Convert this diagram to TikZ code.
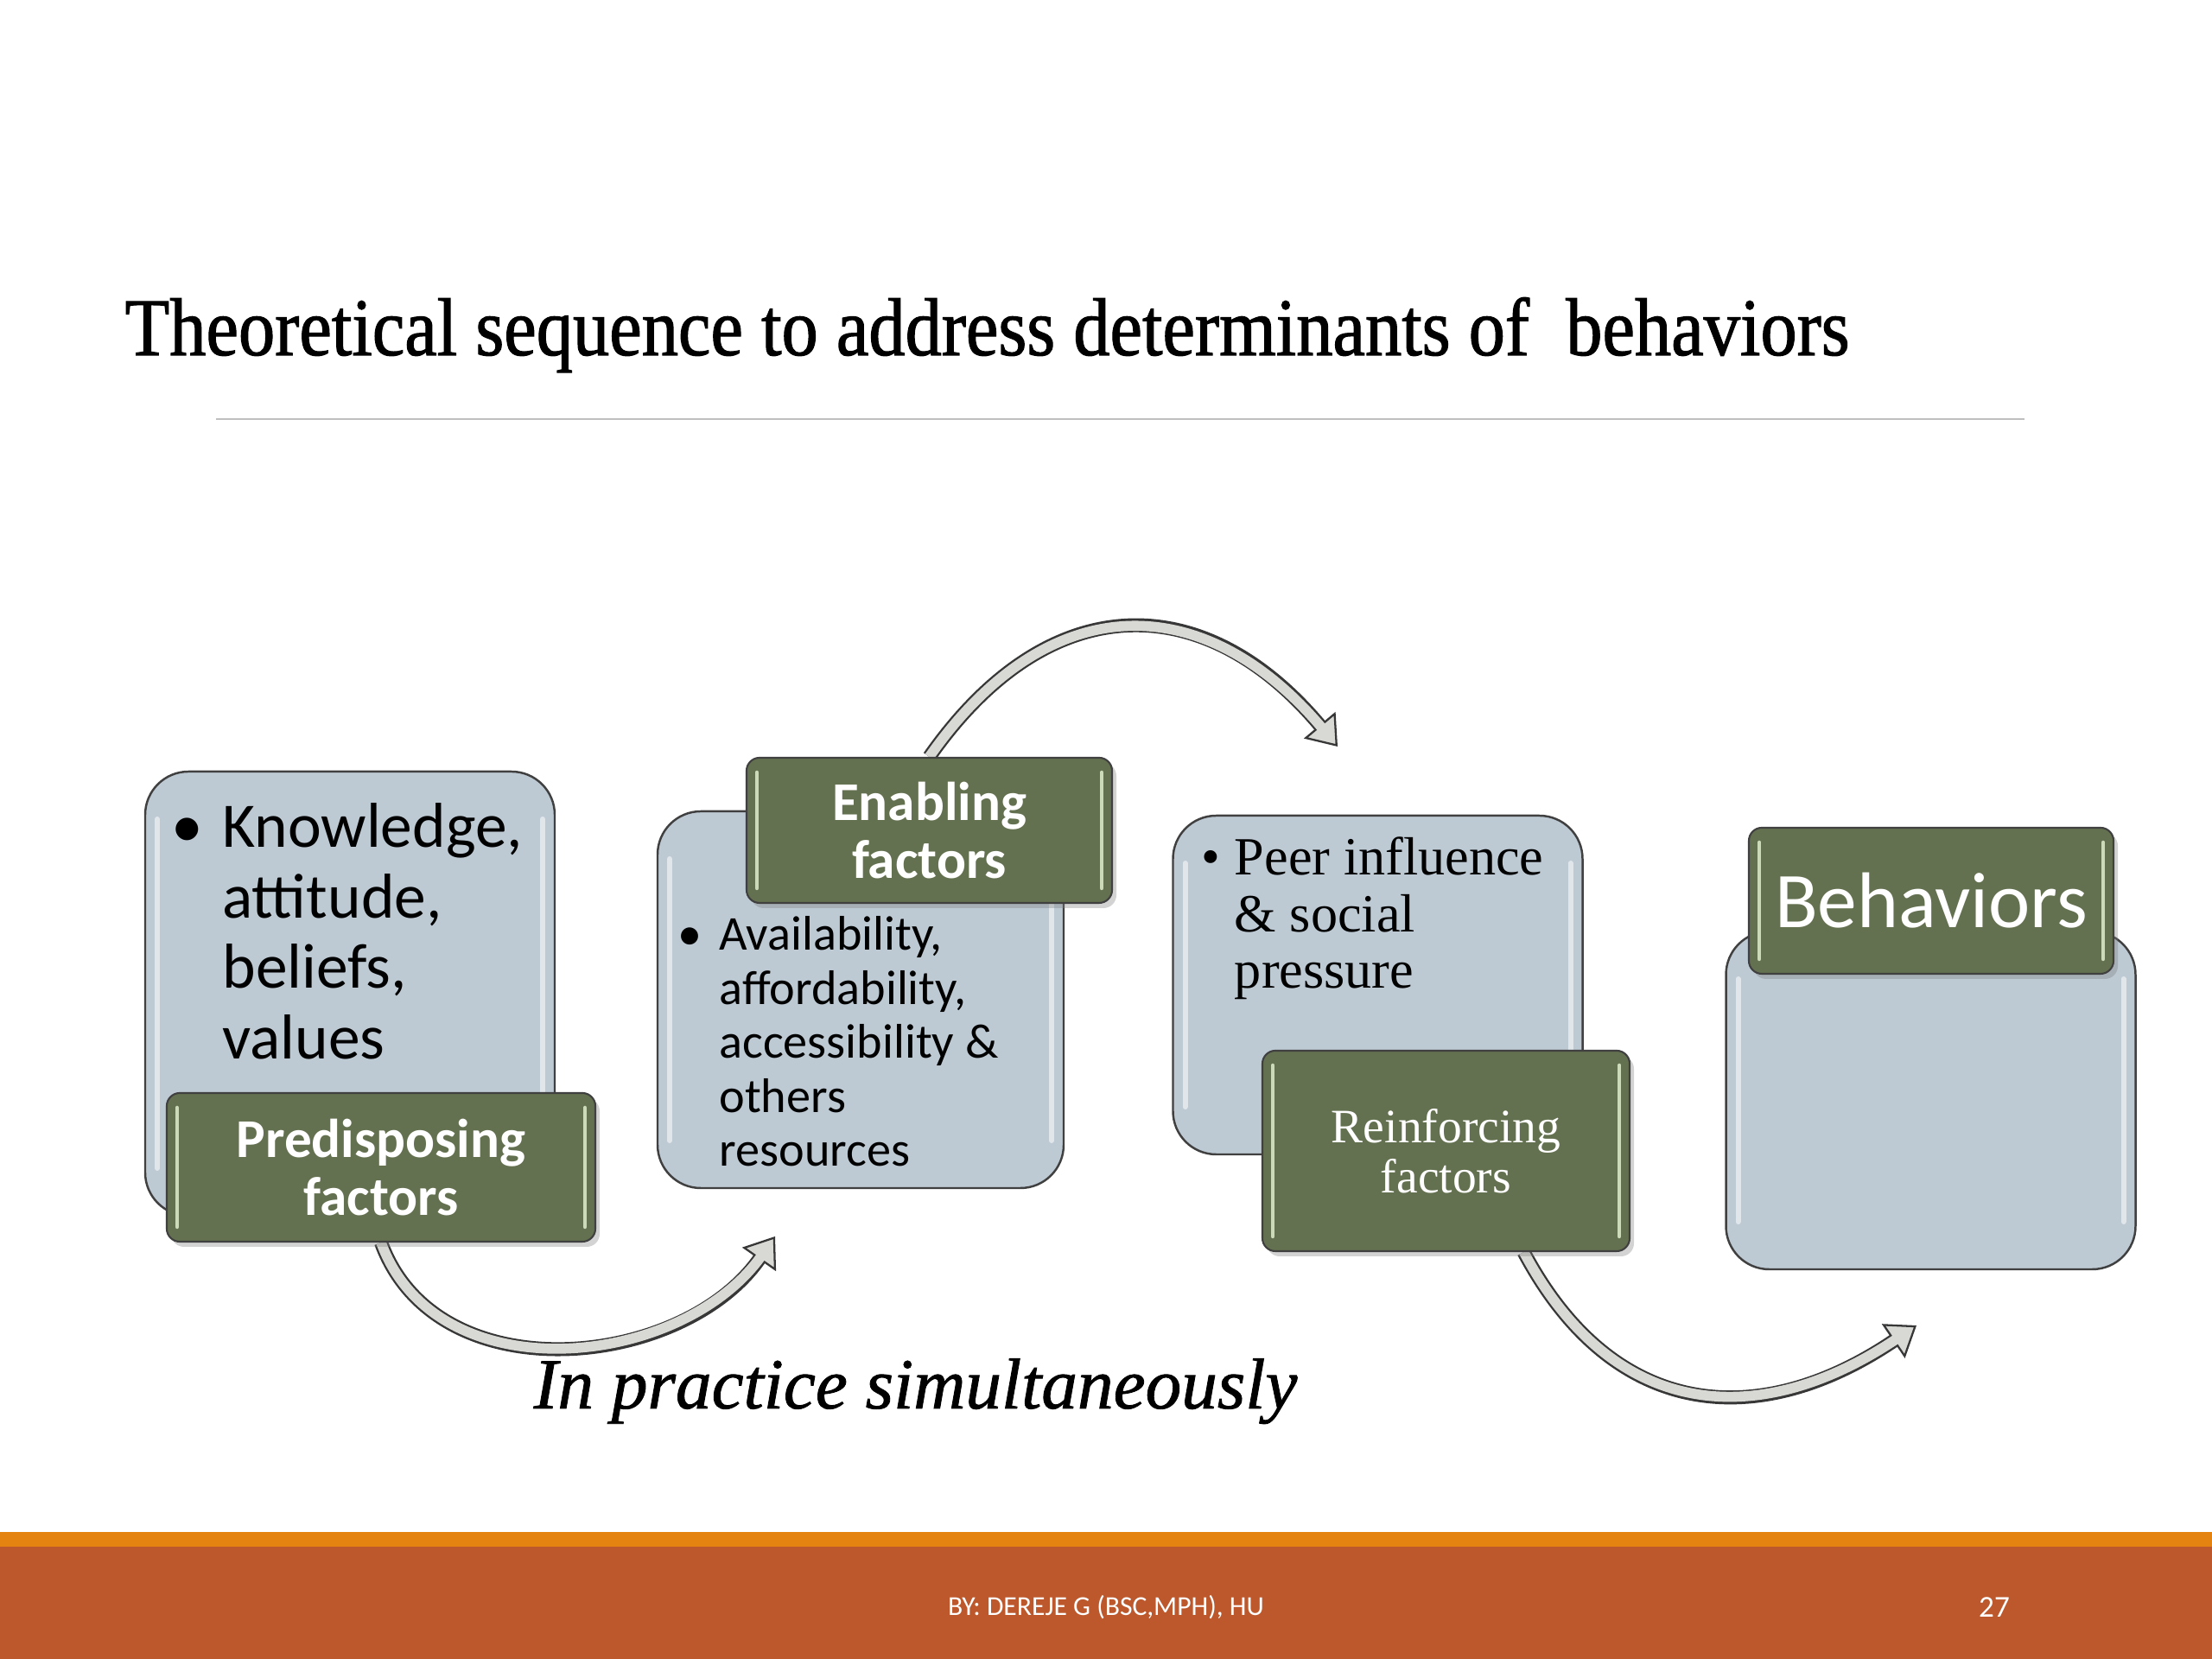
\documentclass[tikz,border=0pt]{standalone}
\usepackage{fontspec}
\setmainfont{Liberation Serif}
\newfontfamily\calibri{Carlito}
\newfontfamily\titlefont[FakeStretch=0.89, FakeBold=1.2]{Liberation Serif}
\newfontfamily\practicefont[FakeBold=1]{Liberation Serif}
\usetikzlibrary{arrows.meta, backgrounds, shadows}

\definecolor{boxblue}{RGB}{189,201,211}
\definecolor{boxedge}{RGB}{64,64,64}
\definecolor{leafgreen}{RGB}{100,113,80}
\definecolor{leafshine}{RGB}{205,218,185}
\definecolor{arrowfill}{RGB}{216,216,212}
\definecolor{arrowedge}{RGB}{55,55,55}
\definecolor{rulegray}{RGB}{191,191,191}
\definecolor{footorange}{RGB}{228,131,15}
\definecolor{footbrown}{RGB}{188,88,44}

\begin{document}
\begin{tikzpicture}[
    bluebox/.style={draw=boxedge, line width=0.7pt, fill=boxblue, rounded corners=0.5cm,
        minimum width=4.74cm, inner sep=0pt,
        path picture={\draw[white, opacity=0.55, line width=0.6mm, line cap=round]
            ([shift={(0.14,-0.55)}]path picture bounding box.north west) -- ([shift={(0.14,0.55)}]path picture bounding box.south west)
            ([shift={(-0.14,-0.55)}]path picture bounding box.north east) -- ([shift={(-0.14,0.55)}]path picture bounding box.south east);}},
    greenbox/.style={draw=boxedge, line width=0.6pt, fill=leafgreen, rounded corners=0.15cm,
        text=white, align=center, inner sep=0pt,
        drop shadow={shadow xshift=0.5mm, shadow yshift=-0.6mm, opacity=0.35},
        path picture={\draw[leafshine, line width=0.45mm, line cap=round]
            ([shift={(0.12,-0.17)}]path picture bounding box.north west) -- ([shift={(0.12,0.17)}]path picture bounding box.south west)
            ([shift={(-0.12,-0.17)}]path picture bounding box.north east) -- ([shift={(-0.12,0.17)}]path picture bounding box.south east);}},
    itemtext/.style={anchor=base west, inner sep=0pt},
    bendarrow/.style={line width=4.6pt, draw=arrowedge,
        -{Triangle[length=9.2pt, width=13.5pt, fill=arrowfill, line width=0.65pt]},
        postaction={draw=arrowfill, line width=3.3pt, arrows=-, shorten >=7.4pt}},
]
    \useasboundingbox (0,0) rectangle (25.6,19.2);

    % Title
    \node[anchor=base west, inner sep=0pt, font=\titlefont\fontsize{27}{32}\selectfont] (title) at (1.44,15.09)
        {Theoretical sequence to address determinants of\ \ behaviors};
    \draw[rulegray, line width=0.6pt] (2.50,14.35) -- (23.43,14.35);

    % Boxes
    \node[bluebox, minimum height=5.14cm] (know) at (4.05,7.70) {};
    \node[bluebox, minimum width=4.70cm, minimum height=4.36cm] (avail) at (9.96,7.63) {};
    \node[bluebox, minimum height=3.92cm] (peer) at (15.945,7.80) {};
    \node[bluebox, minimum height=3.91cm] (outcome) at (22.345,6.465) {};

    % Box texts
    \node[itemtext, font=\calibri\fontsize{20.9}{23.2}\selectfont] (knowtext) at ([shift={(0.31,-0.89)}]know.north west)
        {\begin{tabular}[t]{@{}p{0.59cm}@{}l@{}}\textbullet & Knowledge,\\ & attitude,\\ & beliefs,\\ & values\end{tabular}};
    \node[itemtext, font=\calibri\fontsize{16}{17.8}\selectfont] (availtext) at ([shift={(0.24,-1.62)}]avail.north west)
        {\begin{tabular}[t]{@{}p{0.48cm}@{}l@{}}\textbullet & Availability,\\ & affordability,\\ & accessibility \&\\ & others\\ & resources\end{tabular}};
    \node[itemtext, font=\fontsize{17.7}{18.6}\selectfont] (peertext) at ([shift={(0.34,-0.70)}]peer.north west)
        {\begin{tabular}[t]{@{}p{0.38cm}@{}l@{}}\textbullet & Peer influence\\ & \& social\\ & pressure\end{tabular}};

    % Factor labels
    \node[greenbox, minimum width=4.96cm, minimum height=1.72cm, font=\calibri\bfseries\fontsize{18}{19.3}\selectfont] (pre) at (4.41,5.69) {Predisposing\\factors};
    \node[greenbox, minimum width=4.23cm, minimum height=1.68cm, font=\calibri\bfseries\fontsize{18}{19}\selectfont] (enab) at (10.755,9.59) {Enabling\\factors};
    \node[greenbox, minimum width=4.25cm, minimum height=2.32cm, font=\fontsize{15.8}{16.5}\selectfont] (reinf) at (16.735,5.88) {Reinforcing\\factors};
    \node[greenbox, minimum width=4.22cm, minimum height=1.69cm, font=\calibri\fontsize{26}{30}\selectfont] (behav) at (22.35,8.775) {Behaviors};

    % Curved arrows
    \coordinate (tipA) at (8.97,4.89);
    \coordinate (tipB) at (15.48,10.56);
    \coordinate (tipC) at (22.18,3.86);
    \begin{scope}[on background layer]
        \draw[bendarrow] (pre.south) to[out=-70, in=235, looseness=1.05] (tipA);
        \draw[bendarrow] (enab.north) to[out=55, in=130, looseness=1.3] (tipB);
        \draw[bendarrow] ([xshift=0.9cm]reinf.south) to[out=-62, in=214, looseness=1.22] (tipC);
    \end{scope}

    \node[anchor=base west, inner sep=0pt, font=\practicefont\itshape\fontsize{23.7}{28}\selectfont] (practice) at (6.17,2.90) {In practice simultaneously};

    % Footer
    \fill[footbrown] (0,0) rectangle (25.6,1.30);
    \fill[footorange] (0,1.30) rectangle (25.6,1.47);
    \node[text=white, font=\calibri\fontsize{9}{11}\selectfont] (author) at (12.80,0.60) {BY: DEREJE G (BSC,MPH), HU};
    \node[text=white, font=\calibri\fontsize{10}{12}\selectfont] (pagenum) at (23.08,0.60) {27};
\end{tikzpicture}
\end{document}
